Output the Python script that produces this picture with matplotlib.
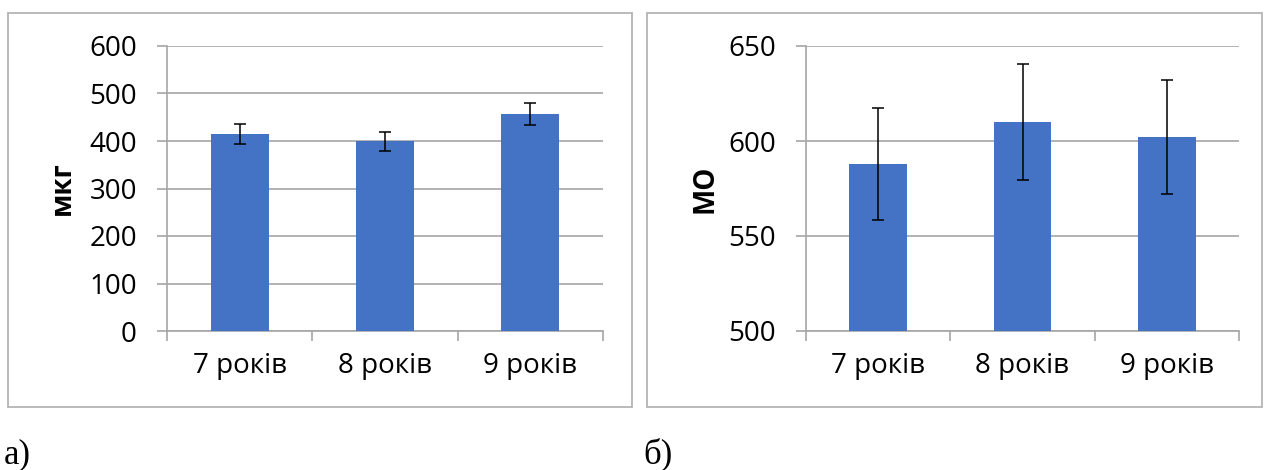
import matplotlib
matplotlib.use("Agg")
import matplotlib.pyplot as plt
from matplotlib.patches import Rectangle

categories = ["7 років", "8 років", "9 років"]
left_values = [414, 399, 456]
left_errors = [21, 20, 23]
right_values = [588, 610, 602]
right_errors = [29.5, 30.5, 30]
left_ticks = [0, 100, 200, 300, 400, 500, 600]
right_ticks = [500, 550, 600, 650]

W, H = 1270, 470
fig = plt.figure(figsize=(W / 100, H / 100), dpi=100)
plt.rcParams['font.family'] = ['Open Sans', 'DejaVu Sans']
GREY = "#a6a6a6"
PX = 72 / 100  # points per pixel

def px_axes(x0, y0, x1, y1):
    return fig.add_axes([x0 / W, 1 - y1 / H, (x1 - x0) / W, (y1 - y0) / H])

# panel frames
for (x0, y0, x1, y1) in [(8, 13, 632, 407), (647, 13, 1262, 407)]:
    fig.patches.append(Rectangle((x0 / W, 1 - y1 / H), (x1 - x0) / W, (y1 - y0) / H,
                                 transform=fig.transFigure, fill=False,
                                 edgecolor="#b4b4b4", linewidth=1.3))

def draw(ax, values, errors, ticks, ylabel, label_x):
    x = list(range(len(categories)))
    ax.bar(x, values, width=0.4, color="#4472C4", zorder=3,
           yerr=errors, error_kw=dict(ecolor="black", elinewidth=1.1,
                                      capsize=6 * PX, capthick=1.1, zorder=4))
    ax.set_ylim(ticks[0], ticks[-1])
    ax.set_xlim(-0.5, len(categories) - 0.5)
    ax.set_yticks(ticks)
    ax.set_xticks(x)
    ax.set_xticklabels(categories, fontsize=20)
    ax.set_xticks([i - 0.5 for i in range(len(categories) + 1)], minor=True)
    ax.tick_params(axis='y', labelsize=20, length=10 * PX, width=1.2, color=GREY, pad=20 * PX)
    ax.tick_params(axis='x', which='major', length=0, pad=21 * PX)
    ax.tick_params(axis='x', which='minor', length=10 * PX, width=1.2, color=GREY)
    ax.grid(axis='y', color=GREY, linewidth=1.2, zorder=0)
    for s in ['top', 'right']:
        ax.spines[s].set_visible(False)
    for s in ['bottom', 'left']:
        ax.spines[s].set_color(GREY)
        ax.spines[s].set_linewidth(1.2)
    ax.set_ylabel(ylabel, fontsize=20, fontweight='bold')
    ax.yaxis.set_label_coords(label_x, 0.5)

ax1 = px_axes(167, 46, 603, 331)
draw(ax1, left_values, left_errors, left_ticks, "мкг", -0.207)
ax2 = px_axes(806, 46, 1239, 331)
draw(ax2, right_values, right_errors, right_ticks, "МО", -0.199)

fig.text(4 / W, 1 - 463 / H, "а)", fontsize=25, family=['Liberation Serif'], va='baseline', ha='left')
fig.text(643 / W, 1 - 463 / H, "б)", fontsize=25, family=['Liberation Serif'], va='baseline', ha='left')

fig.savefig("out.png", dpi=100)
